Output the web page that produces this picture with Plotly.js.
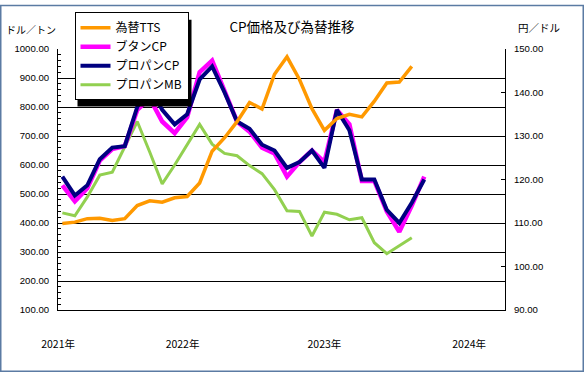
<!DOCTYPE html>
<html>
<head>
<meta charset="utf-8">
<script src="https://cdn.plot.ly/plotly-3.0.1.min.js"></script>
<style>
html,body{margin:0;padding:0;background:#fff;}
#chart{width:584px;height:373px;}
</style>
</head>
<body>
<div id="chart"></div>
<script>
// Months (category axis, one per month)
const months = [
  '2021-04','2021-05','2021-06','2021-07','2021-08','2021-09','2021-10','2021-11','2021-12',
  '2022-01','2022-02','2022-03','2022-04','2022-05','2022-06','2022-07','2022-08','2022-09','2022-10','2022-11','2022-12',
  '2023-01','2023-02','2023-03','2023-04','2023-05','2023-06','2023-07','2023-08','2023-09','2023-10','2023-11','2023-12',
  '2024-01','2024-02','2024-03'
];
// 為替TTS (円/ドル, right axis)
const ttsRate = [109.9,110.2,111.0,111.1,110.6,111.0,114.0,115.1,114.8,115.8,116.1,119.2,126.5,129.6,133.3,137.7,136.2,144.2,148.2,143.0,136.3,131.3,134.0,135.0,134.4,138.0,142.2,142.4,146.0];
// ブタンCP (ドル/トン)
const butaneCP = [530,475,520,615,655,665,790,830,750,710,765,920,960,855,750,715,660,640,560,610,650,610,790,740,545,545,440,370,460,560];
// プロパンCP (ドル/トン)
const propaneCP = [560,495,530,620,660,665,800,870,790,740,775,895,940,850,750,725,670,650,590,610,650,590,790,720,550,550,445,400,470,550];
// プロパンMB (ドル/トン)
const propaneMB = [435,425,490,565,575,660,750,645,535,600,670,740,672,640,632,598,570,515,442,440,355,437,430,411,418,332,294,320,349];
// Series names (legend)
const seriesNames = ['為替TTS', 'ブタンCP', 'プロパンCP', 'プロパンMB'];
// Year labels and where they sit on the month axis
const yearLabels = ['2021年','2022年','2023年','2024年'];
const yearPos = [-0.34, 9.63, 21.0, 32.6];

const idx = months.map((_, i) => i);
const xs = arr => idx.slice(0, arr.length);

const traces = [
  {x: xs(propaneMB), y: propaneMB, name: seriesNames[3], type: 'scatter', mode: 'lines',
   line: {color: '#92D050', width: 3}, yaxis: 'y', legendrank: 4},
  {x: xs(ttsRate), y: ttsRate, name: seriesNames[0], type: 'scatter', mode: 'lines',
   line: {color: '#FF9900', width: 3.5}, yaxis: 'y2', legendrank: 1},
  {x: xs(butaneCP), y: butaneCP, name: seriesNames[1], type: 'scatter', mode: 'lines',
   line: {color: '#FF00FF', width: 4.5}, yaxis: 'y', legendrank: 2},
  {x: xs(propaneCP), y: propaneCP, name: seriesNames[2], type: 'scatter', mode: 'lines',
   line: {color: '#000080', width: 4}, yaxis: 'y', legendrank: 3}
];

const L = 58, R = 79, T = 45, B = 63, W = 584, H = 373;
const pw = W - L - R, ph = H - T - B;
const px = v => (v - L) / pw;          // pixel -> paper x
const py = v => 1 - (v - T) / ph;      // pixel -> paper y

const legFont = 12, legFamily = 'Noto Sans CJK JP';
const legLeft = 74.5, legTop = 10;

const layout = {
  width: W, height: H,
  margin: {l: L, r: R, t: T, b: B, pad: 0},
  paper_bgcolor: '#ffffff', plot_bgcolor: '#ffffff',
  font: {family: 'Liberation Sans, Arial, sans-serif', size: 10, color: '#000'},
  showlegend: true,
  title: {text: 'CP価格及び為替推移', xref: 'container', x: 0.5, xanchor: 'center',
          yref: 'container', y: 1 - 27.5/H, yanchor: 'middle',
          font: {family: 'Noto Sans CJK JP', size: 13.5, color: '#000'}},
  xaxis: {range: [-0.35, 35.47], showgrid: false, zeroline: false,
          showline: true, linecolor: '#000', linewidth: 1, ticks: '',
          tickmode: 'array', tickvals: yearPos, ticktext: yearLabels,
          ticklabelstandoff: 24,
          tickfont: {family: 'Noto Sans CJK JP', size: 10.5, color: '#000'}},
  yaxis: {range: [100, 1000], tick0: 100, dtick: 100, tickformat: '.2f',
          showgrid: true, gridcolor: '#000', gridwidth: 1, zeroline: false,
          showline: true, linecolor: '#000', linewidth: 1,
          ticks: 'inside', ticklen: 4, tickcolor: '#000',
          minor: {dtick: 20, ticks: 'inside', ticklen: 3, tickcolor: '#000', showgrid: false},
          ticklabelstandoff: 6,
          tickfont: {family: 'Liberation Sans, Arial, sans-serif', size: 9.6, color: '#000'}},
  yaxis2: {range: [90, 150], tick0: 90, dtick: 10, tickformat: '.2f',
           overlaying: 'y', side: 'right', showgrid: false, zeroline: false,
           showline: true, linecolor: '#000', linewidth: 1,
           ticks: 'inside', ticklen: 4, tickcolor: '#000',
           ticklabelstandoff: 6,
           tickfont: {family: 'Liberation Sans, Arial, sans-serif', size: 9.6, color: '#000'}},
  legend: {x: px(legLeft), xanchor: 'left', y: py(legTop), yanchor: 'top',
           bgcolor: '#ffffff', bordercolor: '#000', borderwidth: 1,
           font: {family: legFamily, size: legFont, color: '#000'},
           tracegroupgap: 0, itemwidth: 30},
  annotations: [
    {text: 'ドル／トン', xref: 'paper', yref: 'paper', x: px(31), y: py(25.5),
     xanchor: 'center', yanchor: 'middle', showarrow: false,
     font: {family: 'Noto Sans CJK JP', size: 10, color: '#000'}},
    {text: '円／ドル', xref: 'paper', yref: 'paper', x: px(539), y: py(23),
     xanchor: 'center', yanchor: 'middle', showarrow: false,
     font: {family: 'Noto Sans CJK JP', size: 10.5, color: '#000'}}
  ],
  shapes: [
    // outer frame of the chart
    {type: 'rect', xref: 'paper', yref: 'paper', x0: px(0.75), x1: px(W - 0.75), y0: py(H - 0.75), y1: py(0.75),
     line: {color: '#5B7BA3', width: 1.5}, fillcolor: 'rgba(0,0,0,0)', layer: 'above'},
    // legend drop shadow, offset 3px right/down (refitted to the drawn legend below)
    {type: 'rect', xref: 'paper', yref: 'paper',
     x0: px(legLeft + 3), x1: px(legLeft + 118 + 3), y0: py(legTop + 89 + 3), y1: py(legTop + 3),
     line: {width: 0}, fillcolor: '#000', layer: 'above'}
  ]
};

Plotly.newPlot('chart', traces, layout, {displayModeBar: false, staticPlot: true});

// measure the drawn legend box and fit the shadow to it
try {
  const gd = document.getElementById('chart');
  const legendBox = () => {
    const g = gd.querySelector('g.legend');
    const bg = g.querySelector('rect.bg');
    const m = /translate\(\s*([-\d.eE]+)[ ,]+([-\d.eE]+)\s*\)/.exec(g.getAttribute('transform') || '');
    const tx = m ? +m[1] : 0, ty = m ? +m[2] : 0;
    const bw = 1;
    const rx = +bg.getAttribute('x') || 0, ry = +bg.getAttribute('y') || 0;
    const rw = +bg.getAttribute('width'), rh = +bg.getAttribute('height');
    return {x0: tx + rx - bw / 2, y0: ty + ry - bw / 2, x1: tx + rx + rw + bw / 2, y1: ty + ry + rh + bw / 2};
  };
  let b = legendBox();
  const dy = b.y0 - legTop, dx = b.x0 - legLeft;
  if (Math.abs(dy) > 0.3 || Math.abs(dx) > 0.3) {
    Plotly.relayout(gd, {'legend.y': py(legTop - dy), 'legend.x': px(legLeft - dx)});
    b = legendBox();
  }
  Plotly.relayout(gd, {
    'shapes[1].x0': px(b.x0 + 3), 'shapes[1].x1': px(b.x1 + 3),
    'shapes[1].y0': py(b.y1 + 3), 'shapes[1].y1': py(b.y0 + 3)
  });
} catch (e) { /* keep the estimated shadow */ }
</script>
</body>
</html>
